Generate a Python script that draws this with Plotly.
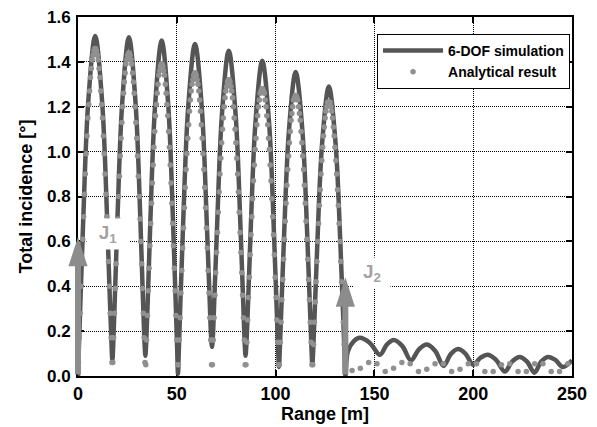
import plotly.graph_objects as go

# ---------------- data ----------------
# 6-DOF simulation curve (range [m], total incidence [deg])
sim_x = [0.0, 0.435, 1.218, 2.61, 5.22, 8.7, 12.18, 14.79, 16.18, 16.97,
         17.4, 17.82, 18.57, 19.91, 22.41, 25.75, 29.09, 31.6, 32.93, 33.68,
         34.1, 34.51, 35.26, 36.58, 39.05, 42.35, 45.65, 48.13, 49.45, 50.19,
         50.6, 51.03, 51.8, 53.18, 55.76, 59.2, 62.64, 65.22, 66.6, 67.37,
         67.8, 68.23, 68.99, 70.35, 72.9, 76.3, 79.7, 82.25, 83.61, 84.38,
         84.8, 85.22, 85.98, 87.34, 89.87, 93.25, 96.63, 99.17, 100.52, 101.28,
         101.7, 102.12, 102.88, 104.24, 106.77, 110.15, 113.53, 116.07, 117.42, 118.18,
         118.6, 119.02, 119.77, 121.11, 123.61, 126.95, 130.29, 132.8, 134.13, 134.88,
         135.3, 136.6, 139.6, 142.6, 147.7, 152.8, 156.3, 159.8, 164.15, 168.5,
         172.55, 176.6, 180.8, 185.0, 188.65, 192.3, 196.15, 200.0, 203.75, 207.5,
         211.75, 216.0, 219.75, 223.5, 227.25, 231.0, 234.4, 237.8, 241.6, 245.4, 250.0]
sim_y = [0.0, 0.119, 0.330, 0.688, 1.226, 1.515, 1.226, 0.688, 0.330, 0.138,
         0.07, 0.138, 0.329, 0.686, 1.222, 1.51, 1.222, 0.686, 0.329, 0.149,
         0.09, 0.148, 0.326, 0.679, 1.209, 1.495, 1.209, 0.679, 0.326, 0.118,
         0.01, 0.116, 0.323, 0.672, 1.197, 1.48, 1.197, 0.672, 0.348, 0.174,
         0.13, 0.173, 0.342, 0.658, 1.173, 1.45, 1.173, 0.658, 0.329, 0.145,
         0.09, 0.142, 0.306, 0.638, 1.137, 1.405, 1.137, 0.638, 0.306, 0.117,
         0.04, 0.114, 0.296, 0.615, 1.096, 1.355, 1.096, 0.615, 0.296, 0.118,
         0.05, 0.113, 0.281, 0.586, 1.044, 1.29, 1.044, 0.586, 0.281, 0.101,
         0.0, 0.11, 0.155, 0.17, 0.1475, 0.095, 0.14, 0.16, 0.133, 0.07,
         0.119, 0.14, 0.1115, 0.045, 0.0975, 0.12, 0.099, 0.05, 0.0815, 0.095,
         0.07, 0.02, 0.065, 0.085, 0.064, 0.015, 0.064, 0.085, 0.0715, 0.04, 0.07]

# Analytical result: samples taken evenly across each oscillation arch
arch_start = [0.0, 17.4, 34.1, 50.6, 67.8, 84.8, 101.7, 118.6]
arch_end = [17.4, 34.1, 50.6, 67.8, 84.8, 101.7, 118.6, 135.3]
arch1 = [0.06, 0.17, 0.28, 0.40, 0.51, 0.61, 0.71, 0.81, 0.90, 0.99, 1.07, 1.15, 1.21, 1.27, 1.33, 1.37, 1.41, 1.43, 1.45, 1.46,
         1.46, 1.45, 1.43, 1.41, 1.37, 1.33, 1.27, 1.21, 1.15, 1.07, 0.99, 0.90, 0.81, 0.71, 0.61, 0.51, 0.40, 0.28, 0.17, 0.06]
arch2 = [0.06, 0.17, 0.28, 0.39, 0.50, 0.60, 0.70, 0.80, 0.89, 0.98, 1.06, 1.13, 1.20, 1.26, 1.31, 1.35, 1.39, 1.41, 1.43, 1.44,
         1.44, 1.43, 1.41, 1.39, 1.35, 1.31, 1.26, 1.20, 1.13, 1.06, 0.98, 0.89, 0.80, 0.70, 0.60, 0.50, 0.39, 0.28, 0.17, 0.06]
arch3 = [0.05, 0.16, 0.27, 0.38, 0.48, 0.58, 0.68, 0.77, 0.86, 0.94, 1.02, 1.09, 1.16, 1.21, 1.26, 1.30, 1.34, 1.36, 1.38, 1.39,
         1.39, 1.38, 1.36, 1.34, 1.30, 1.26, 1.21, 1.16, 1.09, 1.02, 0.94, 0.86, 0.77, 0.68, 0.58, 0.48, 0.38, 0.27, 0.16, 0.05]
arch4 = [0.05, 0.16, 0.26, 0.37, 0.47, 0.57, 0.66, 0.75, 0.84, 0.92, 0.99, 1.06, 1.12, 1.18, 1.23, 1.27, 1.30, 1.32, 1.34, 1.35,
         1.35, 1.34, 1.32, 1.30, 1.27, 1.23, 1.18, 1.12, 1.06, 0.99, 0.92, 0.84, 0.75, 0.66, 0.57, 0.47, 0.37, 0.26, 0.16, 0.05]
arch5 = [0.05, 0.16, 0.26, 0.36, 0.46, 0.55, 0.64, 0.73, 0.82, 0.90, 0.97, 1.04, 1.10, 1.15, 1.20, 1.24, 1.27, 1.29, 1.31, 1.32,
         1.32, 1.31, 1.29, 1.27, 1.24, 1.20, 1.15, 1.10, 1.04, 0.97, 0.90, 0.82, 0.73, 0.64, 0.55, 0.46, 0.36, 0.26, 0.16, 0.05]
arch6 = [0.05, 0.15, 0.25, 0.35, 0.44, 0.54, 0.63, 0.71, 0.79, 0.87, 0.94, 1.01, 1.06, 1.12, 1.16, 1.20, 1.23, 1.26, 1.27, 1.28,
         1.28, 1.27, 1.26, 1.23, 1.20, 1.16, 1.12, 1.06, 1.01, 0.94, 0.87, 0.79, 0.71, 0.63, 0.54, 0.44, 0.35, 0.25, 0.15, 0.05]
arch7 = [0.05, 0.15, 0.24, 0.34, 0.43, 0.52, 0.61, 0.69, 0.77, 0.85, 0.92, 0.98, 1.04, 1.09, 1.14, 1.17, 1.20, 1.23, 1.24, 1.25,
         1.25, 1.24, 1.23, 1.20, 1.17, 1.14, 1.09, 1.04, 0.98, 0.92, 0.85, 0.77, 0.69, 0.61, 0.52, 0.43, 0.34, 0.24, 0.15, 0.05]
arch8 = [0.05, 0.14, 0.24, 0.33, 0.42, 0.51, 0.60, 0.68, 0.76, 0.83, 0.90, 0.96, 1.02, 1.07, 1.11, 1.15, 1.18, 1.20, 1.22, 1.22,
         1.22, 1.22, 1.20, 1.18, 1.15, 1.11, 1.07, 1.02, 0.96, 0.90, 0.83, 0.76, 0.68, 0.60, 0.51, 0.42, 0.33, 0.24, 0.14, 0.05]
arch_vals = [arch1, arch2, arch3, arch4, arch5, arch6, arch7, arch8]

tail_x = [138.7, 142.9, 147.1, 151.3, 155.5, 159.7, 163.9, 168.1, 172.3, 176.5,
          180.7, 184.9, 189.1, 193.3, 197.5, 201.7, 205.9, 210.1, 214.3, 218.5,
          222.7, 226.9, 231.1, 235.3, 239.5, 243.7, 247.9]
tail_y = [0.025, 0.035, 0.06, 0.055, 0.02, 0.035, 0.06, 0.055, 0.02, 0.03,
          0.055, 0.055, 0.02, 0.03, 0.055, 0.055, 0.02, 0.02, 0.05, 0.055,
          0.02, 0.02, 0.055, 0.055, 0.02, 0.02, 0.055]

x_ticks = [0, 50, 100, 150, 200, 250]
y_ticks = [0.0, 0.2, 0.4, 0.6, 0.8, 1.0, 1.2, 1.4, 1.6]

# jump markers: label, range position, arrow tip height
jump_x = [0.0, 135.3]
jump_tip = [0.62, 0.44]
jump_labels = ["J<sub>1</sub>", "J<sub>2</sub>"]
label_x = [15.0, 149.0]
label_y = [0.633, 0.46]

# ---------------- build ----------------
ana_x, ana_y = [], []
for s, e, ys in zip(arch_start, arch_end, arch_vals):
    n = len(ys)
    step = (e - s) / n
    ana_x += [s + (i + 0.5) * step for i in range(n)]
    ana_y += ys
ana_x += tail_x
ana_y += tail_y

FONT = "Liberation Sans, Arial, Helvetica, sans-serif"
LINE_C = "#555555"
DOT_C = "#909090"
ARROW_C = "#8c8c8c"
J_C = "#a3a3a3"

fig = go.Figure()
fig.add_trace(go.Scatter(x=sim_x, y=sim_y, mode="lines", name="6-DOF simulation",
                         line=dict(color=LINE_C, width=4.5, shape="spline", smoothing=1)))
fig.add_trace(go.Scatter(x=ana_x, y=ana_y, mode="markers", name="Analytical result",
                         marker=dict(color=DOT_C, size=5.5, line=dict(width=0))))
# arrow heads of the jump indicators
fig.add_trace(go.Scatter(x=jump_x, y=jump_tip, mode="markers", showlegend=False,
                         hoverinfo="skip", cliponaxis=False,
                         marker=dict(symbol="arrow", size=31, color=ARROW_C,
                                     line=dict(width=0))))

annotations = []
for lx, ly, lt, w in zip(label_x, label_y, jump_labels, [40, 34]):
    annotations.append(dict(x=lx, y=ly, xref="x", yref="y", text=lt,
                            showarrow=False, bgcolor="white", width=w, height=28,
                            font=dict(family=FONT, size=19, color=J_C, weight="bold")))
# arrow shafts
for jx, jy in zip(jump_x, jump_tip):
    annotations.append(dict(x=jx, y=jy - 0.09, xref="x", yref="y", ax=jx, ay=0.0,
                            axref="x", ayref="y", text="", showarrow=True,
                            arrowhead=0, arrowwidth=6, arrowcolor=ARROW_C, standoff=0))

axis_common = dict(showgrid=True, gridcolor="black", gridwidth=1, griddash="1px,1px",
                   showline=True, linecolor="black", linewidth=2, mirror="ticks",
                   ticks="inside", ticklen=6, tickwidth=1.5, tickcolor="black",
                   zeroline=False, automargin=False, layer="below traces",
                   ticklabeloverflow="allow")

# page has an 8px body margin, so the figure is sized to end at the window edge
fig.update_layout(
    width=589, height=419,
    margin=dict(l=70, r=25, t=9, b=51),
    paper_bgcolor="white", plot_bgcolor="white",
    font=dict(family=FONT, color="black"),
    xaxis=dict(range=[0, 250], tickvals=x_ticks,
               tickfont=dict(family=FONT, size=18, color="black", weight="bold"),
               title=dict(text="Range [m]", standoff=0,
                          font=dict(family=FONT, size=18, color="black", weight="bold")),
               **axis_common),
    yaxis=dict(range=[0, 1.6], tickvals=y_ticks, tickformat=".1f",
               ticklabelstandoff=2,
               tickfont=dict(family=FONT, size=17, color="black", weight="bold"),
               title=dict(text="Total incidence [°]", standoff=10,
                          font=dict(family=FONT, size=18, color="black", weight="bold")),
               **axis_common),
    legend=dict(x=0.996, y=0.953, xanchor="right", yanchor="top",
                bgcolor="white", bordercolor="black", borderwidth=1,
                font=dict(family=FONT, size=14, color="black", weight="bold"),
                itemwidth=60, tracegroupgap=0),
    annotations=annotations,
    showlegend=True,
)

fig.write_html("out.html")
